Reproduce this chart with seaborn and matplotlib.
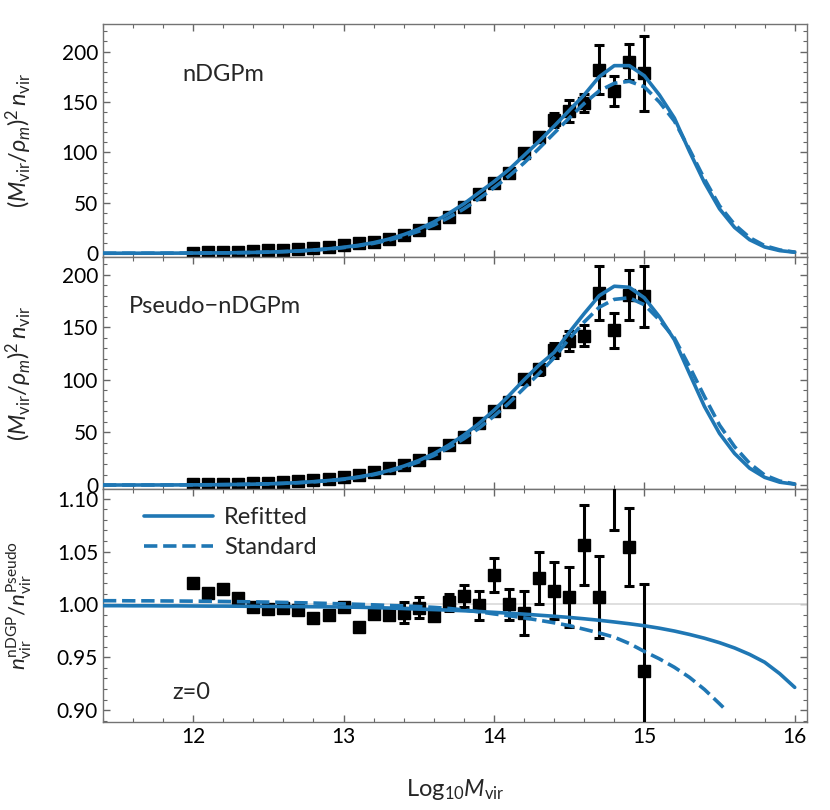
import matplotlib
matplotlib.use("Agg")
import numpy as np
import seaborn as sns
from matplotlib import pyplot as plt
from matplotlib.ticker import MultipleLocator, FormatStrFormatter

# --- binned measurements (log10 M_vir bins) ---
mass_bins = [12.0, 12.1, 12.2, 12.3, 12.4, 12.5, 12.6, 12.7, 12.8, 12.9,
             13.0, 13.1, 13.2, 13.3, 13.4, 13.5, 13.6, 13.7, 13.8, 13.9,
             14.0, 14.1, 14.2, 14.3, 14.4, 14.5, 14.6, 14.7, 14.8, 14.9, 15.0]

ndgp_vals = [0.7, 0.9, 1.1, 1.6, 2.3, 3.0, 3.6, 4.6, 5.6, 6.6,
             8.2, 9.9, 11.5, 14.5, 17.8, 22.7, 29.7, 36.2, 45.8, 59.0,
             69.9, 79.7, 99.5, 115.0, 132.5, 141.0, 149.0, 182.0, 160.5, 189.5, 178.3]
ndgp_errs = [0, 0, 0, 0, 0, 0, 0, 0, 0, 0,
             0, 0, 0, 0, 0, 0, 0.5, 0.8, 1.0, 1.5,
             2.0, 3.0, 4.0, 5.0, 7.0, 10.5, 8.5, 24.0, 14.8, 18.2, 37.5]

pseudo_vals = [0.6, 0.7, 1.0, 1.3, 1.6, 2.2, 3.2, 3.8, 4.8, 5.7,
               7.3, 9.5, 12.7, 15.9, 19.0, 23.8, 30.0, 38.0, 46.0, 58.7,
               70.0, 79.0, 101.0, 110.0, 128.0, 137.0, 142.0, 182.5, 147.0, 180.5, 179.4]
pseudo_errs = [0, 0, 0, 0, 0, 0, 0, 0, 0, 0,
               0, 0, 0, 0, 0, 0, 0.5, 0.8, 1.0, 1.5,
               2.0, 3.0, 4.0, 5.0, 7.0, 9.5, 10.0, 26.0, 16.7, 24.0, 29.0]

ratio_vals = [1.020, 1.0104, 1.015, 1.006, 0.998, 0.9956, 0.9965, 0.995, 0.9868, 0.990,
              0.998, 0.979, 0.991, 0.990, 0.992, 0.997, 0.989, 1.002, 1.008, 0.999,
              1.028, 1.000, 0.992, 1.025, 1.013, 1.007, 1.056, 1.007, 1.140, 1.054, 0.937]
ratio_errs = [0.001, 0.001, 0.001, 0.001, 0.001, 0.001, 0.001, 0.001, 0.001, 0.001,
              0.002, 0.002, 0.003, 0.004, 0.010, 0.010, 0.004, 0.008, 0.010, 0.014,
              0.016, 0.015, 0.021, 0.025, 0.027, 0.028, 0.038, 0.039, 0.070, 0.037, 0.082]

# --- model curves ---
curve_mass = [11.4, 11.5, 11.6, 11.7, 11.8, 11.9, 12.0, 12.1, 12.2, 12.3,
              12.4, 12.5, 12.6, 12.7, 12.8, 12.9, 13.0, 13.1, 13.2, 13.3,
              13.4, 13.5, 13.6, 13.7, 13.8, 13.9, 14.0, 14.1, 14.2, 14.3,
              14.4, 14.5, 14.6, 14.7, 14.8, 14.9, 15.0, 15.1, 15.2, 15.3,
              15.4, 15.5, 15.6, 15.7, 15.8, 15.9, 16.0]

ndgp_refit = [0.01, 0.02, 0.03, 0.05, 0.08, 0.12, 0.18, 0.26, 0.38, 0.55,
              0.8, 1.15, 1.65, 2.3, 3.2, 4.4, 5.9, 7.9, 10.5, 14.0,
              18.5, 24.0, 31.0, 39.5, 49.0, 60.0, 71.0, 83.0, 97.0, 111.0,
              126.0, 141.5, 157.0, 175.0, 186.0, 186.0, 176.0, 157.0, 134.0, 101.0,
              70.0, 44.0, 25.6, 13.4, 6.2, 2.6, 1.0]
ndgp_std = [0.01, 0.02, 0.03, 0.05, 0.08, 0.12, 0.18, 0.26, 0.37, 0.53,
            0.77, 1.1, 1.58, 2.2, 3.05, 4.2, 5.6, 7.4, 9.8, 13.0,
            17.0, 21.8, 27.9, 35.3, 44.0, 54.0, 65.0, 76.5, 89.5, 104.0,
            119.0, 134.0, 148.5, 161.0, 168.5, 170.5, 165.0, 150.0, 131.0, 103.0,
            73.5, 47.0, 28.5, 15.5, 7.5, 3.3, 1.1]

pseudo_refit = [0.01, 0.02, 0.03, 0.05, 0.08, 0.12, 0.18, 0.26, 0.38, 0.55,
                0.8, 1.15, 1.65, 2.3, 3.2, 4.3, 5.7, 7.7, 10.3, 13.7,
                18.0, 23.3, 29.8, 38.0, 47.5, 58.5, 71.0, 85.0, 100.0, 114.0,
                126.0, 145.0, 163.0, 180.0, 189.0, 188.0, 178.0, 160.0, 138.0, 106.0,
                74.6, 49.0, 30.0, 16.0, 7.3, 2.7, 0.8]
pseudo_std = [0.01, 0.02, 0.03, 0.05, 0.08, 0.12, 0.18, 0.26, 0.37, 0.53,
              0.77, 1.1, 1.58, 2.2, 3.05, 4.1, 5.4, 7.3, 9.8, 13.0,
              17.0, 22.0, 28.0, 35.5, 44.0, 54.0, 65.5, 78.0, 92.0, 106.0,
              121.0, 139.0, 155.0, 169.0, 176.5, 178.0, 171.4, 157.0, 139.7, 112.7,
              84.0, 57.0, 36.5, 20.6, 9.5, 3.8, 1.0]

ratio_refit = [0.9988, 0.9988, 0.9987, 0.9987, 0.9986, 0.9986, 0.9985, 0.9984, 0.9984, 0.9983,
               0.9982, 0.9981, 0.9980, 0.9979, 0.9978, 0.9977, 0.9975, 0.9973, 0.9970, 0.9966,
               0.9961, 0.9956, 0.9951, 0.9946, 0.9940, 0.9933, 0.9925, 0.9917, 0.9908, 0.9898,
               0.9888, 0.9877, 0.9864, 0.9850, 0.9834, 0.9817, 0.9798, 0.9775, 0.9748, 0.9716,
               0.9680, 0.9638, 0.9588, 0.9527, 0.9453, 0.9345, 0.9215]

ratio_std_mass = [11.4, 11.5, 11.6, 11.7, 11.8, 11.9, 12.0, 12.1, 12.2, 12.3,
                  12.4, 12.5, 12.6, 12.7, 12.8, 12.9, 13.0, 13.1, 13.2, 13.3,
                  13.4, 13.5, 13.6, 13.7, 13.8, 13.9, 14.0, 14.1, 14.2, 14.3,
                  14.4, 14.5, 14.6, 14.7, 14.8, 14.9, 15.0, 15.1, 15.2, 15.3,
                  15.4, 15.5, 15.55]
ratio_std = [1.0035, 1.0035, 1.0034, 1.0034, 1.0033, 1.0032, 1.0031, 1.0030, 1.0028, 1.0026,
             1.0024, 1.0022, 1.0019, 1.0016, 1.0013, 1.0009, 1.0005, 1.0001, 0.9996, 0.9990,
             0.9985, 0.9980, 0.9972, 0.9962, 0.9948, 0.9930, 0.9910, 0.9893, 0.9873, 0.9850,
             0.9826, 0.9800, 0.9765, 0.9730, 0.9690, 0.9630, 0.9555, 0.9485, 0.9405, 0.9310,
             0.9195, 0.9060, 0.8990]

BLUE = "#1f77b4"

sns.set_style("ticks")
plt.rcParams["font.family"] = ["Lato", "DejaVu Sans"]
plt.rcParams["mathtext.fontset"] = "custom"
plt.rcParams["mathtext.rm"] = "Lato"
plt.rcParams["mathtext.it"] = "Lato:italic"
plt.rcParams["mathtext.bf"] = "Lato:bold"

fig, axes = plt.subplots(3, 1, sharex=True, figsize=(8.3, 8.1), dpi=100)
fig.subplots_adjust(left=0.124, right=0.972, top=0.970, bottom=0.109, hspace=0)

panels = [
    (axes[0], ndgp_vals, ndgp_errs, ndgp_refit, ndgp_std, "nDGPm", (11.93, 177)),
    (axes[1], pseudo_vals, pseudo_errs, pseudo_refit, pseudo_std, "Pseudo\u2212nDGPm", (11.57, 170)),
]

err_kw = dict(fmt="s", color="black", ms=8, elinewidth=2.2, capsize=3.5, capthick=2.2, zorder=3)

for ax, vals, errs, refit, std, name, pos in panels:
    sns.lineplot(x=curve_mass, y=refit, ax=ax, color=BLUE, lw=2.6, zorder=4)
    sns.lineplot(x=curve_mass, y=std, ax=ax, color=BLUE, lw=2.6, linestyle="--", zorder=4)
    ax.errorbar(mass_bins, vals, yerr=errs, **err_kw)
    ax.text(pos[0], pos[1], name, fontsize=17, va="center", ha="left")
    ax.set_ylabel(r"$(M_{\rm vir}/\rho_m)^2\,n_{\rm vir}$", fontsize=17)
    ax.yaxis.set_major_locator(MultipleLocator(50))
    ax.yaxis.set_minor_locator(MultipleLocator(10))

axes[0].set_ylim(-3.5, 227)
axes[1].set_ylim(-4, 217)

ax = axes[2]
ax.axhline(1.0, color="0.85", lw=1.2, zorder=1)
sns.lineplot(x=curve_mass, y=ratio_refit, ax=ax, color=BLUE, lw=2.6, label="Refitted", zorder=4)
sns.lineplot(x=ratio_std_mass, y=ratio_std, ax=ax, color=BLUE, lw=2.6, linestyle="--",
             label="Standard", zorder=4)
ax.errorbar(mass_bins, ratio_vals, yerr=ratio_errs, **err_kw)
ax.set_ylim(0.889, 1.109)
ax.yaxis.set_major_locator(MultipleLocator(0.05))
ax.yaxis.set_minor_locator(MultipleLocator(0.01))
ax.yaxis.set_major_formatter(FormatStrFormatter("%.2f"))
ax.set_ylabel(r"$n_{\rm vir}^{\rm nDGP}/n_{\rm vir}^{\rm Pseudo}$", fontsize=16)
ax.text(11.86, 0.917, "z=0", fontsize=17, va="center", ha="left")
ax.legend(loc="upper left", bbox_to_anchor=(0.035, 0.995), frameon=False, fontsize=17,
          handlelength=2.9, handletextpad=0.5, labelspacing=0.4, borderaxespad=0.3)
ax.set_xlabel(r"Log$_{10}M_{\rm vir}$", fontsize=17, labelpad=22)

ax.set_xlim(11.4, 16.08)
ax.xaxis.set_major_locator(MultipleLocator(1))
ax.xaxis.set_minor_locator(MultipleLocator(0.2))

for a in axes:
    a.yaxis.set_label_coords(-0.098, 0.5)
    a.tick_params(which="both", direction="in", top=True, right=True, colors="0.4",
                  labelcolor="black", labelsize=15)
    a.tick_params(which="major", length=5, width=1)
    a.tick_params(which="minor", length=3, width=0.8)
    for s in a.spines.values():
        s.set_color("0.45")
        s.set_linewidth(1)

fig.savefig("out.png", dpi=100)
